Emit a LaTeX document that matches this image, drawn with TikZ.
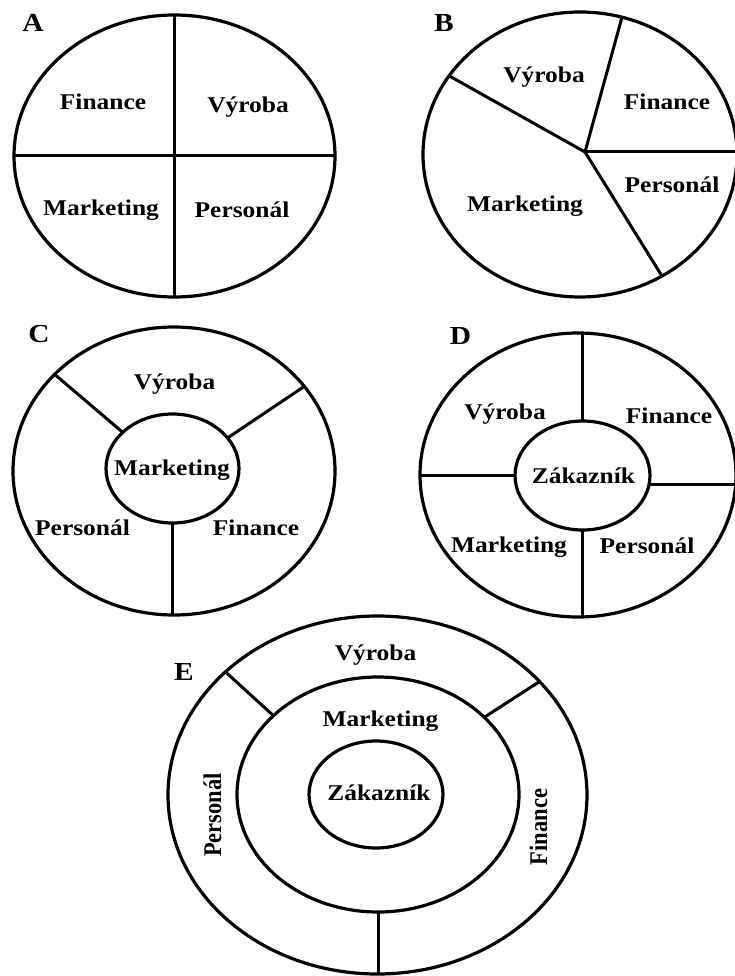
\documentclass[tikz,border=0pt]{standalone}
\usepackage{fontspec}
\setmainfont{Liberation Serif}
\usetikzlibrary{shapes.geometric}

\tikzset{
  ring/.style={ellipse, draw, line width=3.2pt, inner sep=0pt, outer sep=0pt},
  spoke/.style={line width=3pt},
  lbl/.style={anchor=base, inner sep=0pt, xscale=1.13,
    font=\bfseries\fontsize{22.5}{26}\selectfont},
  vlbl/.style={anchor=base, inner sep=0pt, xscale=1.13, rotate=90,
    font=\bfseries\fontsize{22.5}{26}\selectfont},
  tag/.style={anchor=base, inner sep=0pt, xscale=1.13,
    font=\bfseries\fontsize{26}{30}\selectfont},
}

\begin{document}
\begin{tikzpicture}[x=1pt, y=-1pt]
\useasboundingbox[fill=white] (0,0) rectangle (735,976);

% ---------- A: four equal quadrants ----------
\node[ring, minimum width=321pt, minimum height=282pt] (Aout) at (174.5,156) {};
\draw[spoke] (Aout.90) -- (Aout.270);
\draw[spoke] (Aout.180) -- (Aout.0);
\node[tag] (Atag) at (33,32) {A};
\node[lbl] (Afin) at (103,110) {Finance};
\node[lbl] (Avyr) at (248,113) {Výroba};
\node[lbl] (Amkt) at (101,216) {Marketing};
\node[lbl] (Aper) at (242,218) {Personál};

% ---------- B: marketing takes the largest share ----------
\node[ring, minimum width=314pt, minimum height=285pt] (Bout) at (580,154.5) {};
\coordinate (Bhub) at (585,152);
\draw[spoke] (Bhub) -- (Bout.73);
\draw[spoke] (Bhub) -- (Bout.149.2);
\draw[spoke] (Bhub) -- (Bhub -| Bout.east);
\draw[spoke] (Bhub) -- (Bout.304.8);
\node[tag] (Btag) at (444,32) {B};
\node[lbl] (Bvyr) at (544,83) {Výroba};
\node[lbl] (Bfin) at (667,110) {Finance};
\node[lbl] (Bper) at (672,193) {Personál};
\node[lbl] (Bmkt) at (525,212) {Marketing};

% ---------- C: marketing in the centre ----------
\node[ring, minimum width=322pt, minimum height=288pt] (Cout) at (174,471) {};
\node[ring, minimum width=133pt, minimum height=109pt] (Cin) at (172.5,468.5) {};
\draw[spoke] (Cout.141.9) -- (Cin.144.9);
\draw[spoke] (Cout.33.6) -- (Cin.29.5);
\draw[spoke] (Cin.south) -- (Cin.south |- Cout.south);
\node[tag] (Ctag) at (39,342) {C};
\node[lbl] (Cvyr) at (174.5,389) {Výroba};
\node[lbl] (Cmkt) at (172,475) {Marketing};
\node[lbl] (Cper) at (82.5,535) {Personál};
\node[lbl] (Cfin) at (256,535) {Finance};

% ---------- D: customer in the centre ----------
\node[ring, minimum width=316pt, minimum height=284pt] (Dout) at (578,475) {};
\node[ring, minimum width=135pt, minimum height=109pt] (Din) at (582.5,475.5) {};
\draw[spoke] (Din.north) -- (Din.north |- Dout.north);
\draw[spoke] (Din.south) -- (Din.south |- Dout.south);
\draw[spoke] (Dout.west) -- (Dout.west -| Din.west);
\draw[spoke] (Din.352) -- (Din.352 -| Dout.east);
\node[tag] (Dtag) at (460.5,344) {D};
\node[lbl] (Dvyr) at (505,419) {Výroba};
\node[lbl] (Dfin) at (669,423) {Finance};
\node[lbl] (Dzak) at (583.5,483) {Zákazník};
\node[lbl] (Dmkt) at (509,552) {Marketing};
\node[lbl] (Dper) at (647,553) {Personál};

% ---------- E: customer, marketing, then the other functions ----------
\node[ring, minimum width=419pt, minimum height=358pt] (Eout) at (377.5,795) {};
\node[ring, minimum width=282pt, minimum height=235pt] (Emid) at (378,794.5) {};
\node[ring, minimum width=134pt, minimum height=107pt] (Ein) at (376,794.5) {};
\draw[spoke] (Eout.141.1) -- (Emid.143.1);
\draw[spoke] (Eout.35.3) -- (Emid.36.9);
\draw[spoke] (Emid.south) -- (Emid.south |- Eout.south);
\node[tag] (Etag) at (184,680) {E};
\node[lbl] (Evyr) at (375.5,660) {Výroba};
\node[lbl] (Emkt) at (380.5,726) {Marketing};
\node[lbl] (Ezak) at (379,800) {Zákazník};
\node[vlbl] (Eper) at (221,815) {Personál};
\node[vlbl] (Efin) at (547,827) {Finance};
\end{tikzpicture}
\end{document}
